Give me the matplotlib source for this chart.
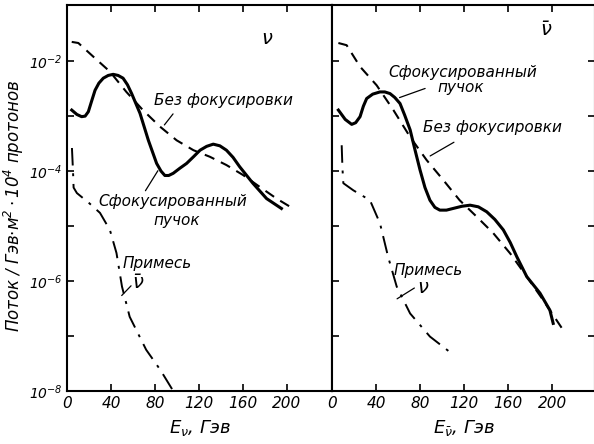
import matplotlib
matplotlib.use("Agg")
import matplotlib.pyplot as plt
import numpy as np

plt.rcParams['font.family'] = ['DejaVu Sans']
plt.rcParams['font.style'] = 'italic'
plt.rcParams['mathtext.default'] = 'it'

# --- neutrino beam (left), log10 of flux ---
nu_nofoc_E = [4.3, 10.3, 24, 39, 54, 69, 84.5, 99.7, 115, 130, 145, 160, 175.5, 190.6, 203]
nu_nofoc_lg = [-1.65, -1.67, -1.92, -2.19, -2.56, -2.89, -3.19, -3.44, -3.62, -3.74, -3.89, -4.07, -4.29, -4.5, -4.65]

nu_foc_E = [4.3, 9, 13.3, 16.5, 19.4, 22.5, 25.5, 29, 33, 37.5, 42, 46.5, 51, 55, 58.8, 66.4, 74, 81.5, 85.5, 89, 92.5, 96.6, 102.5, 108.8, 115, 121, 127, 133, 139, 145, 151, 157, 169, 181.5, 195]
nu_foc_lg = [-2.89, -2.97, -3.01, -3.0, -2.92, -2.72, -2.53, -2.4, -2.31, -2.26, -2.24, -2.26, -2.31, -2.43, -2.59, -2.95, -3.44, -3.86, -4.0, -4.08, -4.08, -4.04, -3.95, -3.86, -3.74, -3.62, -3.55, -3.51, -3.54, -3.62, -3.75, -3.92, -4.22, -4.5, -4.68]

nu_mix_E = [4.5, 5.5, 6, 9, 20, 30, 39, 45, 50, 57, 72, 85, 96, 100]
nu_mix_lg = [-3.58, -4.02, -4.3, -4.4, -4.58, -4.76, -5.07, -5.49, -6.1, -6.65, -7.25, -7.62, -7.98, -8.05]

# --- antineutrino beam (right) ---
anu_nofoc_E = [5.8, 13.3, 25.5, 40.6, 55.8, 71, 86, 101, 116, 131.5, 146.6, 162, 177, 192, 210]
anu_nofoc_lg = [-1.67, -1.71, -2.1, -2.44, -2.89, -3.38, -3.8, -4.16, -4.53, -4.83, -5.13, -5.5, -5.92, -6.35, -6.89]

anu_foc_E = [5.8, 12, 17.9, 21.5, 25.5, 28.5, 31.5, 37, 43.6, 48, 52.7, 57, 61.8, 66, 71, 75.5, 80, 84.5, 89, 93.5, 98, 104, 110, 118, 125.5, 133, 140.6, 148, 155.7, 162, 168, 177, 189, 198, 201]
anu_foc_lg = [-2.89, -3.06, -3.15, -3.12, -3.01, -2.82, -2.68, -2.6, -2.56, -2.56, -2.59, -2.66, -2.77, -2.98, -3.25, -3.62, -3.98, -4.3, -4.53, -4.66, -4.71, -4.71, -4.68, -4.64, -4.62, -4.65, -4.74, -4.88, -5.07, -5.3, -5.56, -5.92, -6.22, -6.53, -6.77]

anu_mix_E = [8.8, 9.5, 10.3, 19.4, 34.5, 43.6, 51, 58.8, 71, 89, 107]
anu_mix_lg = [-3.53, -3.95, -4.22, -4.35, -4.53, -4.95, -5.56, -6.1, -6.59, -7.01, -7.29]

x_ticks = [0, 40, 80, 120, 160, 200]
y_major = [1e-2, 1e-4, 1e-6, 1e-8]
y_minor = [1e-3, 1e-5, 1e-7]

fig = plt.figure(figsize=(5.94, 4.44), dpi=100)
ax1 = fig.add_axes([67/594, 53/444, 265/594, 386/444])
ax2 = fig.add_axes([332/594, 53/444, 263/594, 386/444])

for ax, nf_E, nf_lg, f_E, f_lg, m_E, m_lg in [
        (ax1, nu_nofoc_E, nu_nofoc_lg, nu_foc_E, nu_foc_lg, nu_mix_E, nu_mix_lg),
        (ax2, anu_nofoc_E, anu_nofoc_lg, anu_foc_E, anu_foc_lg, anu_mix_E, anu_mix_lg)]:
    ax.plot(nf_E, 10**np.array(nf_lg), color='black', lw=1.5, dashes=(5, 3.5))
    ax.plot(f_E, 10**np.array(f_lg), color='black', lw=2.2, solid_joinstyle='round')
    ax.plot(m_E, 10**np.array(m_lg), color='black', lw=1.4, dashes=(9, 4, 1.5, 4))
    ax.set_yscale('log')
    ax.set_ylim(1e-8, 1.05e-1)
    ax.set_xticks(x_ticks)
    ax.set_yticks(y_major + y_minor)
    ax.minorticks_off()
    ax.tick_params(direction='in', length=5, width=1.2, labelsize=11, top=True)
    for s in ax.spines.values():
        s.set_linewidth(1.5)

ax1.set_xlim(0, 241)
ax2.set_xlim(0, 239)
ax1.set_yticklabels([r'$10^{-2}$', r'$10^{-4}$', r'$10^{-6}$', r'$10^{-8}$', '', '', ''])
ax1.tick_params(axis='y', labelsize=10, pad=3)
ax1.tick_params(right=False)
ax2.tick_params(labelleft=False, right=True)

ax1.set_xlabel(r'$E_\nu$, Гэв', fontsize=13, labelpad=5)
ax2.set_xlabel(r'$E_{\bar\nu}$, Гэв', fontsize=13, labelpad=5)
ax1.set_ylabel(r'Поток / Гэв$\cdot$м$^2\cdot10^4$ протонов', fontsize=12)
ax1.yaxis.set_label_coords(-0.155, 0.48)

fs = 11
# left annotations
ax1.text(182, 10**-1.58, r'$\nu$', fontsize=14, fontweight='bold', ha='center', va='center')
ax1.text(142, 10**-2.72, 'Без фокусировки', fontsize=fs, ha='center', va='center')
ax1.annotate('', xy=(87, 10**-3.2), xytext=(98, 10**-2.92), arrowprops=dict(arrowstyle='-', lw=0.9))
ax1.text(96, 10**-4.55, 'Сфокусированный', fontsize=fs, ha='center', va='center')
ax1.text(100, 10**-4.9, 'пучок', fontsize=fs, ha='center', va='center')
ax1.annotate('', xy=(84, 10**-3.95), xytext=(70, 10**-4.4), arrowprops=dict(arrowstyle='-', lw=0.9))
ax1.text(82, 10**-5.68, 'Примесь', fontsize=fs, ha='center', va='center')
ax1.text(65, 10**-6.05, r'$\bar\nu$', fontsize=14, ha='center', va='center')
ax1.annotate('', xy=(48, 10**-6.3), xytext=(60, 10**-6.05), arrowprops=dict(arrowstyle='-', lw=0.9))

# right annotations
ax2.text(195, 10**-1.45, r'$\bar\nu$', fontsize=14, ha='center', va='center')
ax2.text(119, 10**-2.2, 'Сфокусированный', fontsize=fs, ha='center', va='center')
ax2.text(117, 10**-2.48, 'пучок', fontsize=fs, ha='center', va='center')
ax2.annotate('', xy=(59, 10**-2.68), xytext=(87, 10**-2.48), arrowprops=dict(arrowstyle='-', lw=0.9))
ax2.text(146, 10**-3.2, 'Без фокусировки', fontsize=fs, ha='center', va='center')
ax2.annotate('', xy=(87, 10**-3.75), xytext=(113, 10**-3.45), arrowprops=dict(arrowstyle='-', lw=0.9))
ax2.text(87, 10**-5.8, 'Примесь', fontsize=fs, ha='center', va='center')
ax2.text(83, 10**-6.12, r'$\nu$', fontsize=14, fontweight='bold', ha='center', va='center')
ax2.annotate('', xy=(57, 10**-6.35), xytext=(77, 10**-6.1), arrowprops=dict(arrowstyle='-', lw=0.9))

fig.savefig('out.png', dpi=100)
